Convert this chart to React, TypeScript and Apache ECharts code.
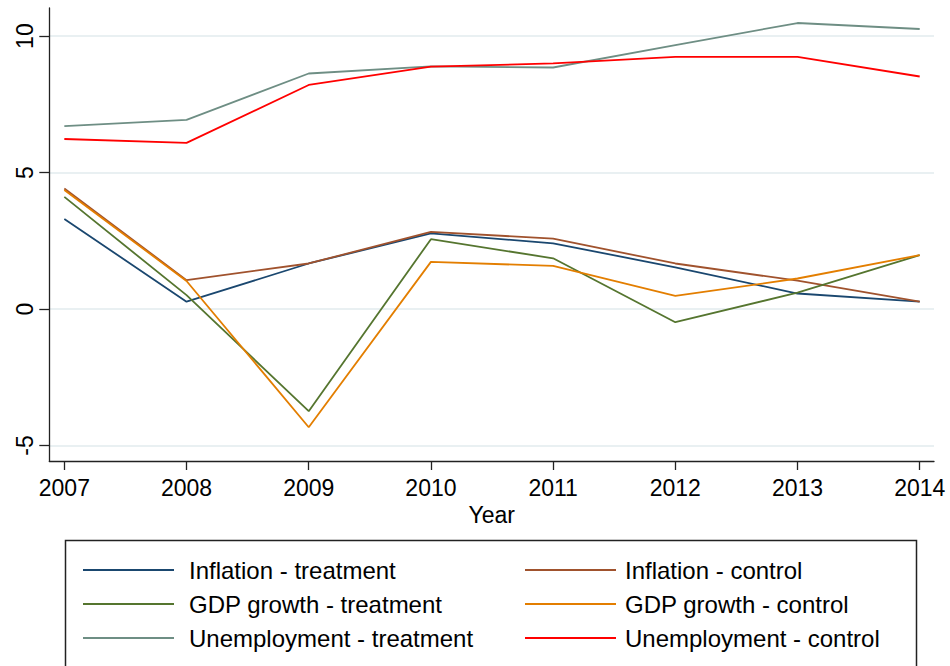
import React, { useEffect, useRef } from "react";
import * as echarts from "echarts";

// Survey years on the horizontal axis
const years = [2007, 2008, 2009, 2010, 2011, 2012, 2013, 2014];

// Indicator values (percent) for treatment and control groups
const inflationTreatment = [3.3, 0.27, 1.67, 2.77, 2.41, 1.53, 0.57, 0.27];
const inflationControl = [4.42, 1.06, 1.67, 2.83, 2.58, 1.67, 1.04, 0.27];
const gdpTreatment = [4.11, 0.51, -3.74, 2.56, 1.86, -0.48, 0.6, 1.98];
const gdpControl = [4.36, 1.03, -4.33, 1.73, 1.58, 0.48, 1.12, 1.98];
const unempTreatment = [6.7, 6.93, 8.63, 8.89, 8.85, 9.67, 10.48, 10.26];
const unempControl = [6.23, 6.09, 8.21, 8.88, 9.0, 9.24, 9.24, 8.52];

const yTicks = [-5, 0, 5, 10];

const seriesDefs = [
  { name: "Inflation - treatment", data: inflationTreatment, color: "#1a476f" },
  { name: "Inflation - control", data: inflationControl, color: "#a0522d" },
  { name: "GDP growth - treatment", data: gdpTreatment, color: "#55752f" },
  { name: "GDP growth - control", data: gdpControl, color: "#e37e00" },
  { name: "Unemployment - treatment", data: unempTreatment, color: "#6e8e84" },
  { name: "Unemployment - control", data: unempControl, color: "#ff0000" },
];

const FONT = "'Liberation Sans', Arial, Helvetica, sans-serif";

export default function App() {
  const ref = useRef<HTMLDivElement>(null);

  useEffect(() => {
    if (!ref.current) return;
    const chart = echarts.init(ref.current, null, { renderer: "svg" });

    const legendBase = {
      orient: "vertical",
      top: 557,
      padding: 0,
      itemWidth: 91,
      itemHeight: 2,
      itemGap: 8,
      icon: "rect",
      selectedMode: false,
      textStyle: {
        fontFamily: FONT,
        fontSize: 24,
        lineHeight: 26,
        color: "#000",
      },
    };

    chart.setOption({
      animation: false,
      backgroundColor: "#fff",
      textStyle: { fontFamily: FONT },
      grid: { left: 49.3, right: 16, top: 8, bottom: 205, containLabel: false },
      xAxis: {
        type: "value",
        min: 2006.877,
        max: 2014.117,
        name: "Year",
        nameLocation: "middle",
        nameGap: 36,
        nameTextStyle: { fontFamily: FONT, fontSize: 23, color: "#000" },
        axisLine: { show: true, onZero: false, lineStyle: { color: "#222", width: 1.3 } },
        axisTick: {
          show: true,
          length: 9,
          customValues: years,
          lineStyle: { color: "#222", width: 1.3 },
        },
        axisLabel: {
          customValues: years,
          margin: 15,
          fontFamily: FONT,
          fontSize: 23,
          color: "#000",
          formatter: (v: number) => String(Math.round(v)),
        },
        splitLine: { show: false },
      },
      yAxis: {
        type: "value",
        min: -5.566,
        max: 11.03,
        axisLine: { show: true, onZero: false, lineStyle: { color: "#222", width: 1.3 } },
        axisTick: {
          show: true,
          length: 10,
          customValues: yTicks,
          lineStyle: { color: "#222", width: 1.3 },
        },
        axisLabel: {
          customValues: yTicks,
          rotate: 90,
          margin: 13,
          fontFamily: FONT,
          fontSize: 23,
          color: "#000",
        },
        splitLine: {
          show: true,
          lineStyle: { color: "#e9f0f2", width: 2 },
        },
      },
      legend: [
        {
          ...legendBase,
          left: 83,
          textStyle: { ...legendBase.textStyle, padding: [0, 0, 0, 10] },
          data: [seriesDefs[0].name, seriesDefs[2].name, seriesDefs[4].name],
        },
        {
          ...legendBase,
          left: 525,
          textStyle: { ...legendBase.textStyle, padding: [0, 0, 0, 4] },
          data: [seriesDefs[1].name, seriesDefs[3].name, seriesDefs[5].name],
        },
      ],
      graphic: [
        {
          type: "rect",
          shape: { x: 65.5, y: 540.5, width: 851, height: 140 },
          style: { fill: "none", stroke: "#222", lineWidth: 1.5 },
          silent: true,
        },
      ],
      series: seriesDefs.map((s) => ({
        name: s.name,
        type: "line",
        data: years.map((y, i) => [y, s.data[i]]),
        symbol: "none",
        color: s.color,
        lineStyle: { color: s.color, width: 1.8 },
        itemStyle: { color: s.color },
      })),
    });

    return () => chart.dispose();
  }, []);

  return (
    <div
      ref={ref}
      style={{ position: "fixed", left: 0, top: 0, width: 950, height: 666 }}
    />
  );
}
